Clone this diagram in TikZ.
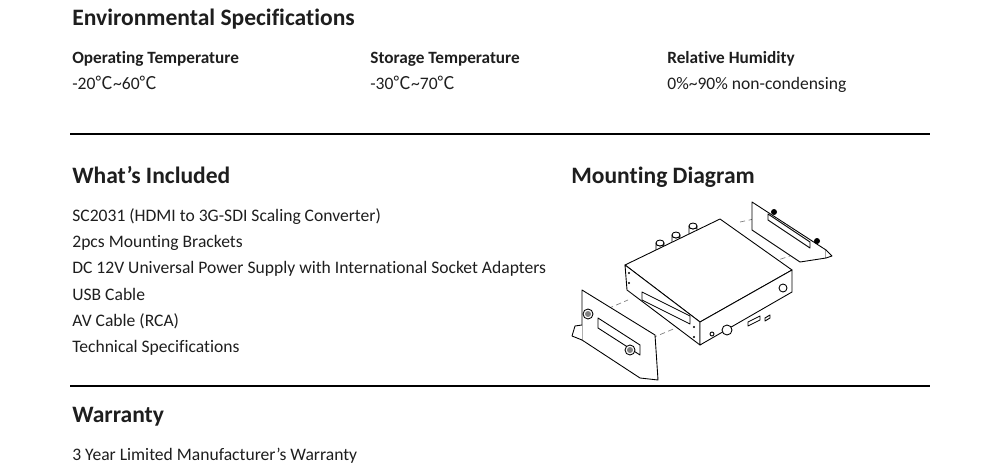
\documentclass[tikz,border=0pt]{standalone}
\usepackage{fontspec}
\setmainfont[RawFeature=-liga]{Carlito}
\newfontfamily\cjkfont{Noto Sans CJK SC}
\newcommand{\degc}{{\cjkfont ℃}}
\usetikzlibrary{positioning}
\definecolor{textgray}{RGB}{30,30,30}
\tikzset{
  heading/.style={anchor=base west, font=\fontsize{13.4}{15}\selectfont\bfseries, text=textgray, inner sep=0pt},
  sublabel/.style={anchor=base west, font=\fontsize{9.8}{11}\selectfont\bfseries, text=textgray, inner sep=0pt},
  body/.style={anchor=base west, font=\fontsize{10}{12}\selectfont, text=textgray, inner sep=0pt},
  rule/.style={line width=1pt, black},
  part/.style={line width=0.5pt, black, fill=white, line join=round},
  guide/.style={densely dashed, gray, line width=0.4pt}
}
\begin{document}
\begin{tikzpicture}[x=0.02cm, y=-0.02cm]
  \useasboundingbox (0,0) rectangle (1000,476);

  % Environmental
  \node[heading] (env) at (72,26) {Environmental Specifications};
  \node[sublabel] (optl) at (72,64) {Operating Temperature};
  \node[body] (optv) at (72,90) {-20\degc\textasciitilde60\degc};
  \node[sublabel] (stl) at (370,64) {Storage Temperature};
  \node[body] (stv) at (370,90) {-30\degc\textasciitilde70\degc};
  \node[sublabel] (rhl) at (667,64) {Relative Humidity};
  \node[body] (rhv) at (667,90) {0\%\textasciitilde90\% non-condensing};
  \draw[rule] (70,134) -- (930,134);

  % Included
  \node[heading] (inc) at (72,184) {What’s Included};
  \foreach \t [count=\i] in {SC2031 (HDMI to 3G-SDI Scaling Converter),
      2pcs Mounting Brackets,
      DC 12V Universal Power Supply with International Socket Adapters,
      USB Cable, AV Cable (RCA), Technical Specifications}
    \node[body] (item\i) at (72,195+\i*26.3) {\t};

  % Mounting diagram
  \node[heading] (mnt) at (571,184) {Mounting Diagram};
  % guides
  \draw[guide] (600,312) -- (628,300);
  \draw[guide] (652,338) -- (690,322);
  \draw[guide] (740,222) -- (768,216);
  \draw[guide] (772,262) -- (790,256);
  % back connectors
  \foreach \cx/\cy in {660/243, 676/235, 693/226} {
    \draw[part] (\cx-4,\cy+8) -- (\cx-4,\cy) arc (180:0:4 and 3) -- (\cx+4,\cy+8);
    \draw[part] (\cx,\cy) ellipse (4 and 3);
  }
  % box
  \coordinate (ta) at (625,265); \coordinate (tb) at (720,219);
  \coordinate (tc) at (792,270); \coordinate (td) at (700,322);
  \coordinate (ba) at (627,290); \coordinate (bc) at (792,292);
  \coordinate (bd) at (700,345);
  \draw[part] (ta) -- (tb) -- (tc) -- (td) -- cycle;
  \draw[part] (ta) -- (td) -- (bd) -- (ba) -- cycle;
  \draw[part] (td) -- (tc) -- (bc) -- (bd) -- cycle;
  % front panel details
  \draw[part] (642,292) -- (690,316) -- (690,324) -- (642,300) -- cycle;
  \draw[part] (727,330) circle (5);
  \draw[part] (748,322) -- (760,316) -- (760,320) -- (748,326) -- cycle;
  \draw[part] (765,318) -- (770,315) -- (770,318) -- (765,321) -- cycle;
  \draw[part] (783,288) circle (4);
  \draw[part] (712,334) circle (2);
  \foreach \px/\py in {629/273, 629/283, 694/327, 694/337} \fill (\px,\py) circle (1.2);
  % right bracket
  \draw[part] (752,202) -- (826,250) -- (826,258) -- (800,262) -- (752,230) -- cycle;
  \draw[part] (826,250) -- (832,256) -- (826,258);
  \draw[part] (768,220) -- (810,248) -- (810,242) -- (768,214) -- cycle;
  \fill (774,212) circle (3); \fill (817,241) circle (3);
  % left bracket
  \draw[part] (582,290) -- (655,335) -- (658,380) -- (640,378) -- (582,340) -- cycle;
  \draw[part] (582,340) -- (572,336) -- (575,326) -- (582,325);
  \draw[part] (598,318) -- (640,345) -- (640,355) -- (598,328) -- cycle;
  \draw[part, fill=white] (588,314) circle (5);
  \draw[part, fill=white] (630,350) circle (5);
  \fill[gray] (588,314) circle (3); \fill[gray] (630,350) circle (3);
  \draw[rule] (70,386) -- (930,386);

  % Warranty
  \node[heading] (war) at (72,422) {Warranty};
  \node[body] (warv) at (72,460) {3 Year Limited Manufacturer's Warranty};
\end{tikzpicture}
\end{document}
